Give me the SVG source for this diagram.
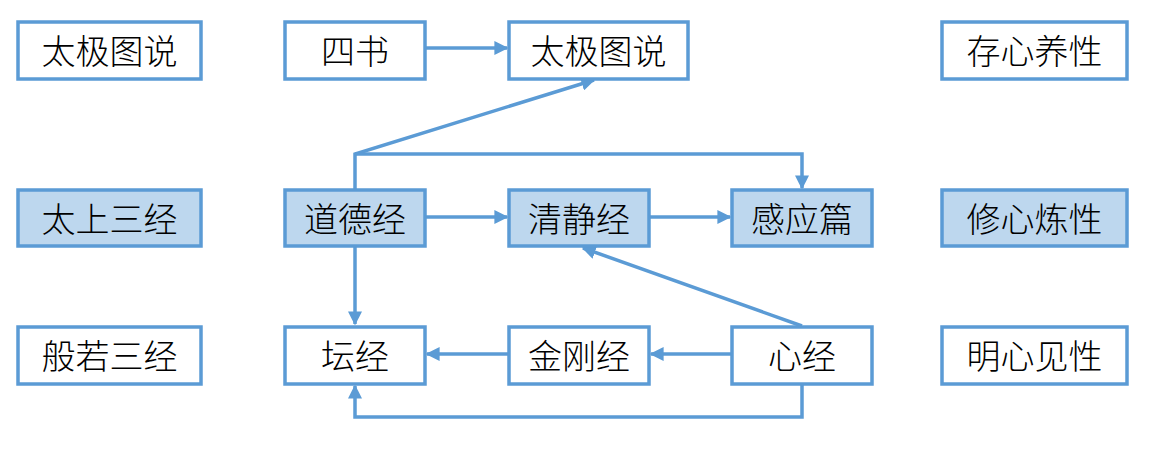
<svg xmlns="http://www.w3.org/2000/svg" width="1149" height="450" viewBox="0 0 1149 450">
<defs>
<style>
.box{fill:#fff;stroke:#5B9BD5;stroke-width:3.5}
.hl{fill:#BDD7EE}
text{font-family:"Noto Sans CJK SC","Noto Sans CJK JP",sans-serif;font-size:34px;fill:#000;text-anchor:middle;dominant-baseline:central;font-weight:300}
.c{fill:none;stroke:#5B9BD5;stroke-width:3.5;stroke-linejoin:miter}
</style>
<marker id="ah" viewBox="0 0 10 10" refX="9" refY="5" markerWidth="4" markerHeight="4" orient="auto" markerUnits="strokeWidth">
<path d="M0,0 L10,5 L0,10 z" fill="#5B9BD5"/>
</marker>
</defs>
<rect width="1149" height="450" fill="#fff"/>
<g id="connectors">
<path class="c" d="M425,48 H507" marker-end="url(#ah)"/>
<path class="c" d="M355,190 V154 L594,80" marker-end="url(#ah)"/>
<path class="c" d="M355,154 H802 V188" marker-end="url(#ah)"/>
<path class="c" d="M425,217 H507" marker-end="url(#ah)"/>
<path class="c" d="M649,217 H730" marker-end="url(#ah)"/>
<path class="c" d="M355,246 V324" marker-end="url(#ah)"/>
<path class="c" d="M802,326 L583,248" marker-end="url(#ah)"/>
<path class="c" d="M732,354 H651" marker-end="url(#ah)"/>
<path class="c" d="M509,354 H427" marker-end="url(#ah)"/>
<path class="c" d="M802,384 V417 H355 V386" marker-end="url(#ah)"/>
</g>
<g id="n1"><rect class="box" x="18" y="22" width="183" height="57"/><text x="109.5" y="49.5">太极图说</text></g>
<g id="n2"><rect class="box" x="285" y="22" width="140" height="57"/><text x="355" y="49.5">四书</text></g>
<g id="n3"><rect class="box" x="509" y="22" width="179" height="57"/><text x="598.5" y="49.5">太极图说</text></g>
<g id="n4"><rect class="box" x="942" y="22" width="185" height="57"/><text x="1034.5" y="49.5">存心养性</text></g>
<g id="n5"><rect class="box hl" x="18" y="190" width="183" height="56"/><text x="109.5" y="217">太上三经</text></g>
<g id="n6"><rect class="box hl" x="285" y="190" width="140" height="56"/><text x="355" y="217">道德经</text></g>
<g id="n7"><rect class="box hl" x="509" y="190" width="140" height="56"/><text x="579" y="217">清静经</text></g>
<g id="n8"><rect class="box hl" x="732" y="190" width="140" height="56"/><text x="802" y="217">感应篇</text></g>
<g id="n9"><rect class="box hl" x="942" y="190" width="185" height="56"/><text x="1034.5" y="217">修心炼性</text></g>
<g id="n10"><rect class="box" x="18" y="327" width="183" height="57"/><text x="109.5" y="354">般若三经</text></g>
<g id="n11"><rect class="box" x="285" y="327" width="140" height="57"/><text x="355" y="354">坛经</text></g>
<g id="n12"><rect class="box" x="509" y="327" width="140" height="57"/><text x="579" y="354">金刚经</text></g>
<g id="n13"><rect class="box" x="732" y="327" width="140" height="57"/><text x="802" y="354">心经</text></g>
<g id="n14"><rect class="box" x="942" y="327" width="185" height="57"/><text x="1034.5" y="354">明心见性</text></g>
</svg>
